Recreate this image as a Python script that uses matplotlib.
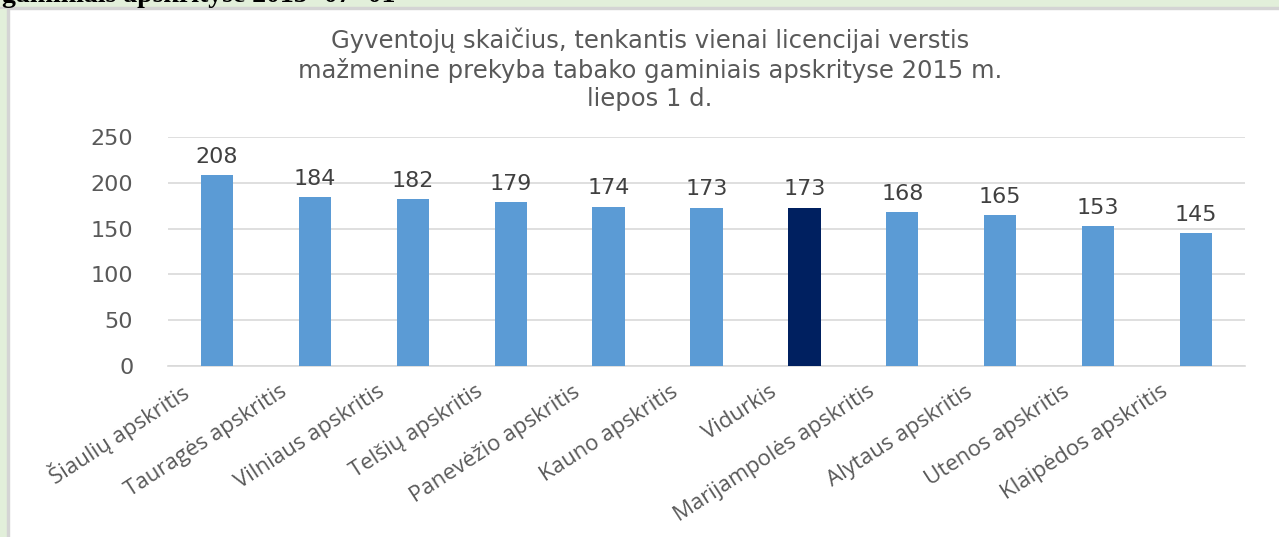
import matplotlib.pyplot as plt
import matplotlib.patches as mpatches
from matplotlib.transforms import ScaledTranslation
import numpy as np

# duomenys
apskritys = ["Šiaulių apskritis", "Tauragės apskritis", "Vilniaus apskritis",
             "Telšių apskritis", "Panevėžio apskritis", "Kauno apskritis",
             "Vidurkis", "Marijampolės apskritis", "Alytaus apskritis",
             "Utenos apskritis", "Klaipėdos apskritis"]
reiksmes = [208, 184, 182, 179, 174, 173, 173, 168, 165, 153, 145]
y_ticks = [0, 50, 100, 150, 200, 250]

BLUE = "#5B9BD5"
NAVY = "#002060"
GRAY_TXT = "#595959"
GRID = "#D9D9D9"

fig = plt.figure(figsize=(12.79, 5.37), dpi=100)
fig.patch.set_facecolor("white")

# žalias rėmelis viršuje ir kairėje
W, H = 1279, 537
fig.patches.append(mpatches.Rectangle((0, 1 - 7 / H), 1, 7 / H, transform=fig.transFigure,
                                      color="#E2EFDA", zorder=0))
fig.patches.append(mpatches.Rectangle((0, 1 - 9 / H), 1, 2 / H, transform=fig.transFigure,
                                      color="#D4D4D4", zorder=0))
fig.patches.append(mpatches.Rectangle((0, 0), 7 / W, 1 - 9 / H, transform=fig.transFigure,
                                      color="#E2EFDA", zorder=0))
fig.patches.append(mpatches.Rectangle((7 / W, 0), 2 / W, 1 - 9 / H, transform=fig.transFigure,
                                      color="#D4D4D4", zorder=0))
fig.text(2 / W, 1 - 8 / H, "gaminiais apskrityse 2015 -07 -01", fontsize=20,
         fontweight="bold", family="Liberation Serif", color="black", va="bottom", ha="left")

ax = fig.add_axes([168 / W, 1 - 366 / H, (1245 - 168) / W, (366 - 137) / H])
x = np.arange(len(apskritys))
colors = [NAVY if a == "Vidurkis" else BLUE for a in apskritys]
bars = ax.bar(x, reiksmes, width=0.33, color=colors, zorder=3)

ax.set_xlim(-0.5, len(apskritys) - 0.5)
ax.set_ylim(0, 250)
ax.set_yticks(y_ticks)
ax.set_yticklabels([str(t) for t in y_ticks], fontsize=16, color=GRAY_TXT)
ax.tick_params(axis="y", length=0, pad=25)
ax.grid(axis="y", color=GRID, linewidth=1.2, zorder=0)
for s in ["top", "right", "left"]:
    ax.spines[s].set_visible(False)
ax.spines["bottom"].set_color(GRID)
ax.spines["bottom"].set_linewidth(1.2)

ax.set_xticks(x)
ax.set_xticklabels(apskritys, rotation=33, ha="right", va="center", rotation_mode="anchor",
                   fontsize=16, color=GRAY_TXT, family="Open Sans")
ax.tick_params(axis="x", length=0, pad=0)
shift = ScaledTranslation(-0.30, -0.24, fig.dpi_scale_trans)
for lbl in ax.get_xticklabels():
    lbl.set_transform(lbl.get_transform() + shift)

for bar, val in zip(bars, reiksmes):
    ax.text(bar.get_x() + bar.get_width() / 2, val + 9, str(val),
            ha="center", va="bottom", fontsize=16, color="#404040")

fig.text(0.508, 1 - 28 / H,
         "Gyventojų skaičius, tenkantis vienai licencijai verstis\n"
         "mažmenine prekyba tabako gaminiais apskrityse 2015 m.\n"
         "liepos 1 d.",
         ha="center", va="top", fontsize=17.5, color=GRAY_TXT, family="DejaVu Sans",
         linespacing=1.22)

plt.savefig("out.png", dpi=100, facecolor="white")
